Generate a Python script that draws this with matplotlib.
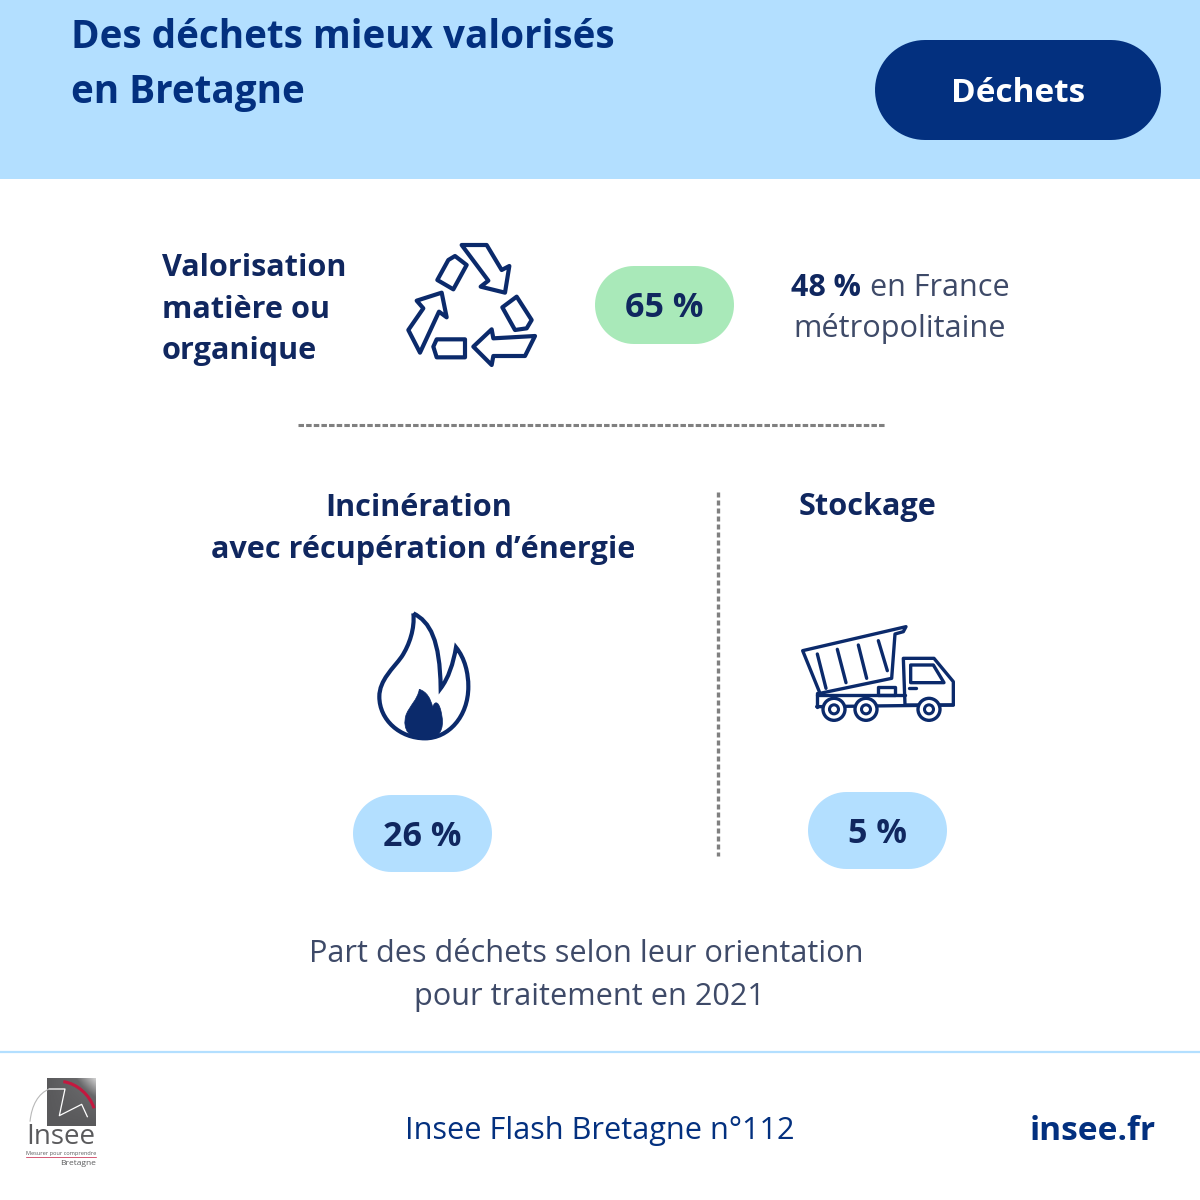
import numpy as np
import matplotlib
matplotlib.use('Agg')
import matplotlib.pyplot as plt
from matplotlib.colors import LinearSegmentedColormap
from matplotlib.patches import Rectangle, Polygon, Circle, PathPatch
from matplotlib.path import Path

# chart values
categories = ['Valorisation\nmatière ou\norganique', 'Incinération', 'avec récupération d’énergie', 'Stockage']
shares = [65, 26, 5]
france_share = 48

title_lines = ['Des déchets mieux valorisés', 'en Bretagne']
tag = 'Déchets'
caption = ['Part des déchets selon leur orientation', 'pour traitement en 2021']
source = 'Insee Flash Bretagne n°112'
site = 'insee.fr'

NAVY = '#03307f'
DARK = '#10275f'
GREY = '#3e4a68'
ICON = '#0b2a6b'
LIGHT = '#b3dfff'
GREEN = '#a9e9b9'

plt.rcParams['font.family'] = ['Open Sans', 'DejaVu Sans']

fig = plt.figure(figsize=(12, 12), dpi=100)
ax = fig.add_axes([0, 0, 1, 1])
ax.set_axis_off()


def pill(x0, y0, x1, y1, color):
    # true half circles at both ends
    r = (y1 - y0) / 2
    a = np.linspace(-np.pi / 2, np.pi / 2, 40)
    right = np.c_[x1 - r + r * np.cos(a), y0 + r + r * np.sin(a)]
    left = np.c_[x0 + r - r * np.cos(a[::-1]), y0 + r + r * np.sin(a[::-1])]
    ax.add_patch(Polygon(np.vstack([right, left]), closed=True, fc=color, ec='none', zorder=2))


def zoomed(pts, ox, oy):
    return [(ox + x / 3, oy + y / 3) for x, y in pts]


def curve(pts, ox, oy, **kw):
    codes = [Path.MOVETO] + [Path.CURVE4] * (len(pts) - 1)
    ax.add_patch(PathPatch(Path(zoomed(pts, ox, oy), codes), **kw))


# header
ax.add_patch(Rectangle((0, 0), 1200, 179, fc=LIGHT, ec='none'))
ax.text(71, 38, title_lines[0], fontsize=27.8, fontweight='bold', color=NAVY, va='center')
ax.text(71, 92, title_lines[1], fontsize=27.8, fontweight='bold', color=NAVY, va='center')
pill(875, 40, 1161, 140, NAVY)
ax.text(1018, 94, tag, fontsize=24, fontweight='bold', color='white', ha='center', va='center', zorder=3)

# recycling block
ax.text(162, 309.5, categories[0], fontsize=22.1, fontweight='bold', color=DARK, va='center',
        linespacing=1.5)
recycle = [
    [(215, 45), (290, 45), (335, 120), (358, 108), (345, 188), (272, 170), (295, 152)],
    [(195, 78), (230, 105), (190, 178), (142, 150), (175, 90)],
    [(155, 188), (170, 262), (147, 245), (90, 368), (55, 300), (100, 235), (80, 212)],
    [(140, 328), (225, 328), (225, 382), (140, 382), (130, 350)],
    [(250, 350), (305, 298), (310, 325), (435, 318), (405, 378), (310, 378), (305, 405)],
    [(380, 200), (425, 270), (410, 295), (375, 300), (337, 232)],
]
for shape in recycle:
    ax.add_patch(Polygon(zoomed(shape, 390, 230), closed=True, fc='none', ec=ICON, lw=3, joinstyle='round'))

pill(595, 266, 734, 344, GREEN)
ax.text(664.5, 308, '%d %%' % shares[0], fontsize=24.5, fontweight='bold', color=DARK, ha='center', va='center', zorder=3)
ax.text(791, 288, '%d %%' % france_share, fontsize=21.9, fontweight='bold', color=DARK, va='center')
ax.text(870, 288, 'en France', fontsize=22, color=GREY, va='center')
ax.text(900, 329, 'métropolitaine', fontsize=22.1, color=GREY, ha='center', va='center')

# separators
ax.plot([298, 886], [425, 425], color='#808080', lw=2.2, ls=(0, (1.8, 0.7)))
ax.plot([718, 718], [492, 856], color='#808080', lw=2.4, ls=(0, (1.5, 0.9)))

# incineration
ax.text(419, 508, categories[1], fontsize=22.1, fontweight='bold', color=DARK, ha='center', va='center')
ax.text(423, 550, categories[2], fontsize=22.1, fontweight='bold', color=DARK, ha='center', va='center')
outer = [(160, 40), (210, 65), (240, 120), (242, 265),
         (265, 235), (280, 190), (288, 142),
         (315, 175), (325, 220), (325, 260),
         (325, 350), (265, 415), (195, 415),
         (120, 415), (58, 360), (58, 290),
         (58, 240), (100, 205), (125, 170),
         (148, 135), (165, 85), (160, 40)]
curve(outer, 360, 600, fc='none', ec=ICON, lw=3)
inner = [(178, 268), (200, 275), (212, 295), (218, 322),
         (225, 298), (240, 305), (246, 350),
         (252, 385), (240, 418), (195, 418),
         (150, 418), (125, 390), (138, 345),
         (150, 315), (172, 300), (178, 268)]
curve(inner, 360, 600, fc=ICON, ec=ICON, lw=0.5)
pill(353, 795, 492, 872, LIGHT)
ax.text(422.5, 837, '%d %%' % shares[1], fontsize=24.5, fontweight='bold', color=DARK, ha='center', va='center', zorder=3)

# storage
ax.text(868, 507, categories[3], fontsize=22.1, fontweight='bold', color=DARK, ha='center', va='center')
truck_parts = [
    [(68, 122), (378, 50), (370, 65), (345, 72), (335, 205), (120, 250)],
    [(370, 145), (462, 145), (520, 215), (520, 285), (375, 285)],
    [(392, 165), (460, 165), (492, 218), (392, 218)],
    [(295, 232), (345, 232), (345, 255), (295, 255)],
]
for shape in truck_parts:
    ax.add_patch(Polygon(zoomed(shape, 780, 610), closed=True, fc='none', ec=ICON, lw=2.4, joinstyle='round'))
for seg in [[(112, 132), (138, 235)], [(172, 118), (198, 218)], [(235, 105), (260, 205)],
            [(295, 92), (322, 182)], [(110, 250), (110, 290)], [(110, 290), (520, 285)],
            [(110, 255), (375, 255)], [(388, 235), (408, 235)]]:
    xy = zoomed(seg, 780, 610)
    ax.plot([xy[0][0], xy[1][0]], [xy[0][1], xy[1][1]], color=ICON, lw=2.4, solid_capstyle='round')
for cx in [162, 258, 447]:
    c = zoomed([(cx, 298)], 780, 610)[0]
    ax.add_patch(Circle(c, 11, fc='white', ec=ICON, lw=2.4, zorder=3))
    ax.add_patch(Circle(c, 4.5, fc='white', ec=ICON, lw=2.2, zorder=4))
pill(808, 792, 947, 869, LIGHT)
ax.text(877.5, 834, '%d %%' % shares[2], fontsize=24.5, fontweight='bold', color=DARK, ha='center', va='center', zorder=3)

# caption
ax.text(586, 954, caption[0], fontsize=22.1, color=GREY, ha='center', va='center')
ax.text(589, 997, caption[1], fontsize=22.1, color=GREY, ha='center', va='center')

# footer
ax.plot([0, 1200], [1052, 1052], color=LIGHT, lw=1.6)
ax.text(600, 1131, source, fontsize=22.1, color=NAVY, ha='center', va='center')
ax.text(1156, 1132, site, fontsize=24.1, fontweight='bold', color=NAVY, ha='right', va='center')

# logo
grad = np.linspace(0, 1, 60)[None, :] * np.linspace(1, 0, 60)[:, None]
logo_map = LinearSegmentedColormap.from_list('logo', [(0, '#59595b'), (0.6, '#68686a'), (1, '#d0d0d0')])
ax.imshow(grad, extent=(47, 96, 1126, 1078), cmap=logo_map, aspect='auto', zorder=1)
red = [(160, 50), (200, 55), (240, 90), (252, 130)]
curve(red, 10, 1065, fc='none', ec='#c4183f', lw=2.2, zorder=2)
zig = zoomed([(118, 72), (165, 72), (148, 152), (215, 118), (232, 155)], 10, 1065)
ax.plot([p[0] for p in zig], [p[1] for p in zig], color='white', lw=0.9, zorder=2)
grey_arc = [(60, 170), (65, 120), (85, 85), (118, 72)]
curve(grey_arc, 10, 1065, fc='none', ec='#b8b8b8', lw=0.8, zorder=2)
ax.text(61, 1137, 'Insee', fontsize=20, color='#5a5a5c', ha='center', va='center')
ax.text(61, 1153.5, 'Mesurer pour comprendre', fontsize=4.1, color='#5a5a5c', ha='center', va='center')
ax.plot([26, 96], [1156.5, 1156.5], color='#c4183f', lw=0.5)
ax.text(96, 1163.5, 'Bretagne', fontsize=6, color='#5a5a5c', ha='right', va='center')

ax.set_xlim(0, 1200)
ax.set_ylim(1200, 0)
fig.savefig('out.png', dpi=100, facecolor='white')
